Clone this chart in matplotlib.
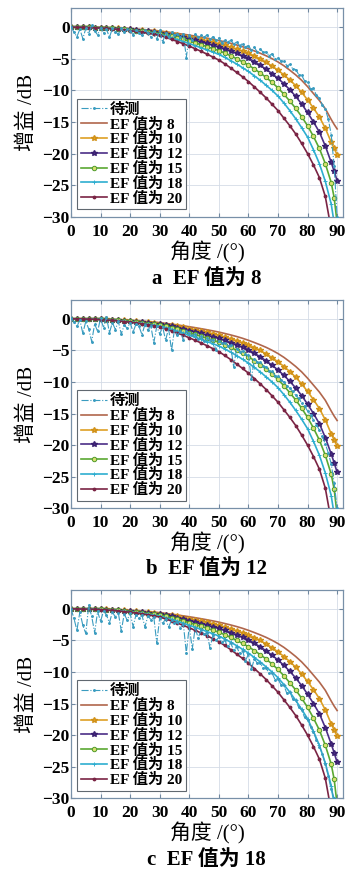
import matplotlib
matplotlib.use("Agg")
import matplotlib.pyplot as plt

plt.rcParams['font.family'] = ['Liberation Serif', 'Noto Sans CJK SC']
plt.rcParams['font.weight'] = 'bold'
plt.rcParams['axes.unicode_minus'] = True

# model curves, angle in degrees
ang = list(range(0, 89, 2)) + [89, 90]
ef8 = [0, 0, -0.01, -0.02, -0.03, -0.05, -0.07, -0.1, -0.14, -0.19, -0.25, -0.31, -0.38, -0.45, -0.52,
       -0.6, -0.72, -0.85, -0.98, -1.11, -1.25, -1.4, -1.56, -1.73, -1.91, -2.1, -2.32, -2.55, -2.8, -3.08,
       -3.4, -3.75, -4.12, -4.52, -4.98, -5.5, -6.1, -6.8, -7.55, -8.4, -9.4, -10.5, -11.6, -12.9, -14.6,
       -15.4, -16.1]
ef10 = [0, 0, -0.01, -0.03, -0.05, -0.07, -0.1, -0.13, -0.18, -0.24, -0.3, -0.38, -0.46, -0.55, -0.65,
        -0.75, -0.9, -1.05, -1.2, -1.37, -1.55, -1.75, -1.95, -2.15, -2.37, -2.6, -2.87, -3.15, -3.45, -3.77,
        -4.1, -4.55, -5.0, -5.55, -6.15, -6.8, -7.55, -8.35, -9.25, -10.3, -11.5, -12.8, -14.2, -16.0, -18.2,
        -19.2, -20.2]
ef12 = [0, 0, -0.01, -0.03, -0.05, -0.08, -0.12, -0.16, -0.21, -0.28, -0.35, -0.44, -0.53, -0.63, -0.74,
        -0.85, -1.02, -1.2, -1.4, -1.62, -1.85, -2.08, -2.32, -2.57, -2.83, -3.1, -3.42, -3.76, -4.12, -4.5,
        -4.9, -5.45, -6.02, -6.65, -7.35, -8.1, -8.95, -9.9, -10.95, -12.15, -13.5, -15.0, -16.6, -18.8, -21.4,
        -22.8, -24.3]
ef15 = [0, 0, -0.02, -0.04, -0.07, -0.1, -0.14, -0.19, -0.26, -0.34, -0.42, -0.52, -0.63, -0.74, -0.87,
        -1.0, -1.2, -1.42, -1.66, -1.92, -2.2, -2.48, -2.77, -3.07, -3.38, -3.7, -4.1, -4.52, -4.98, -5.47,
        -6.0, -6.6, -7.25, -7.95, -8.75, -9.6, -10.6, -11.7, -12.85, -14.15, -15.6, -17.3, -19.2, -21.6, -24.6,
        -27.0, -31.0]
ef18 = [0, -0.01, -0.02, -0.05, -0.08, -0.12, -0.17, -0.23, -0.31, -0.4, -0.5, -0.61, -0.73, -0.86, -1.0,
        -1.15, -1.4, -1.67, -1.96, -2.27, -2.6, -2.92, -3.26, -3.6, -3.95, -4.3, -4.78, -5.28, -5.82, -6.4,
        -7.0, -7.7, -8.4, -9.2, -10.0, -10.9, -12.0, -13.2, -14.5, -15.9, -17.4, -19.4, -21.6, -24.4, -28.0,
        -31.0, -36.0]
ef20 = [0, -0.01, -0.03, -0.05, -0.09, -0.13, -0.19, -0.26, -0.34, -0.44, -0.55, -0.67, -0.8, -0.95, -1.12,
        -1.3, -1.6, -1.92, -2.26, -2.62, -3.0, -3.4, -3.82, -4.26, -4.72, -5.2, -5.8, -6.45, -7.15, -7.85,
        -8.6, -9.45, -10.3, -11.2, -12.2, -13.2, -14.4, -15.6, -16.9, -18.4, -20.0, -21.8, -23.8, -26.8, -32.0,
        -36.0, -42.0]

# measured data, 1 degree steps
ang_m = list(range(0, 91))
meas_a = [0.1, -0.8, -1.5, -0.3, -1.8, -0.2, -1.0, 0.3, -0.6, -1.2,
          -0.1, -0.9, -0.3, -1.6, -0.2, -0.7, -1.1, -0.2, -0.8, -0.3,
          -0.6, -1.2, -0.4, -0.9, -1.3, -0.5, -0.9, -1.5, -0.6, -1.9,
          -0.5, -2.4, -0.9, -1.6, -0.8, -1.2, -1.1, -1.5, -1.0, -4.8,
          -1.2, -2.0, -1.1, -1.6, -1.3, -1.6, -1.2, -1.9, -1.5, -2.0,
          -1.7, -2.5, -2.0, -2.3, -2.1, -2.6, -2.3, -2.9, -2.6, -3.1,
          -2.9, -3.6, -3.2, -3.9, -3.4, -4.0, -3.9, -4.5, -4.2, -5.0,
          -4.8, -5.4, -5.3, -6.1, -5.9, -6.6, -6.7, -7.5, -7.6, -8.5,
          -8.6, -9.8, -9.7, -10.8, -11.2, -12.3, -13.0, -14.5, -17.0, -22.0,
          -30.0]
meas_b = [0.1, -0.5, -1.2, -0.2, -2.3, -0.4, -1.6, -3.6, -0.8, -2.0,
          0.1, -1.4, 0.3, -2.2, -0.6, -1.7, -0.4, -2.4, -1.0, -1.5,
          -0.6, -2.1, -0.8, -1.2, -2.5, -0.9, -1.8, -1.1, -3.8, -1.2,
          -2.4, -1.3, -3.4, -1.5, -5.0, -1.7, -2.6, -2.0, -3.4, -2.0,
          -2.3, -2.6, -2.4, -3.2, -2.7, -3.5, -3.0, -3.4, -3.3, -5.0,
          -3.5, -3.9, -3.8, -4.3, -4.2, -7.6, -4.7, -5.2, -5.1, -5.6,
          -5.7, -9.6, -6.3, -6.9, -6.9, -7.5, -7.6, -8.2, -8.3, -9.0,
          -9.1, -9.7, -10.0, -10.6, -11.0, -11.5, -12.1, -12.6, -13.3, -13.8,
          -14.6, -15.2, -16.0, -16.8, -17.6, -18.6, -19.8, -21.2, -23.0, -26.0,
          -30.0]
meas_c = [0.0, -1.5, -3.4, -0.5, -2.6, -3.9, 0.6, -1.2, -3.8, -0.4,
          -2.0, -0.3, -1.0, -2.2, -0.5, -1.3, -0.6, -3.5, -0.8, -1.8,
          -0.7, -2.8, -0.9, -1.5, -1.0, -2.9, -1.1, -1.7, -1.3, -5.4,
          -1.4, -2.3, -1.6, -2.9, -1.8, -2.3, -2.1, -3.0, -2.4, -7.0,
          -2.7, -6.4, -3.0, -4.6, -3.4, -4.0, -3.8, -6.2, -4.2, -5.0,
          -4.5, -5.3, -5.0, -5.9, -5.4, -6.5, -6.0, -7.0, -6.6, -8.2,
          -7.2, -9.6, -7.9, -8.6, -8.6, -9.4, -9.4, -10.2, -10.2, -11.2,
          -11.1, -12.0, -12.1, -13.4, -13.2, -14.3, -14.5, -15.6, -16.0, -17.2,
          -17.6, -18.7, -19.5, -20.8, -21.8, -23.0, -24.6, -26.5, -28.6, -30.0,
          -31.0]

captions = ['a  EF 值为 8', 'b  EF 值为 12', 'c  EF 值为 18']
measured = [meas_a, meas_b, meas_c]

models = [
    ('EF 值为 8', ef8, dict(color='#b0664c', lw=1.2)),
    ('EF 值为 10', ef10, dict(color='#dea024', lw=1.2, marker='*', ms=4, mfc='#e8a820', mec='#d09018')),
    ('EF 值为 12', ef12, dict(color='#4b2e86', lw=1.2, marker='*', ms=4, mfc='#4b2e86', mec='#3a2070')),
    ('EF 值为 15', ef15, dict(color='#5aa832', lw=1.2, marker='o', ms=3.2, mfc='#d8e070', mec='#4f9a2a', mew=0.7)),
    ('EF 值为 18', ef18, dict(color='#2eaed0', lw=1.2, marker='+', ms=3.5, mew=0.7)),
    ('EF 值为 20', ef20, dict(color='#7a2444', lw=1.2, marker='.', ms=3.5)),
]

fig = plt.figure(figsize=(3.47, 8.72), dpi=100)
bottoms = [0.7515, 0.4171, 0.0845]
cap_y = [1 - 279 / 872, 1 - 569 / 872, 1 - 860 / 872]

for i in range(3):
    ax = fig.add_axes([0.2046, bottoms[i], 0.784, 0.239])
    ax.plot(ang_m, measured[i], color='#3a9cc0', lw=0.8, ls='-.', marker='.', ms=2.2,
            label='待测', zorder=5)
    for name, vals, st in models:
        ax.plot(ang, vals, label=name, **st)
    ax.set_xlim(0, 92)
    ax.set_ylim(-30, 3)
    ax.set_xticks(range(0, 91, 10))
    ax.set_yticks(range(-30, 1, 5))
    ax.grid(True, color='#d4dce6', lw=0.6)
    ax.tick_params(direction='in', length=3, labelsize=12.5, top=True, right=True,
                   color='#7088a0')
    ax.tick_params(axis='x', pad=5)
    ax.tick_params(axis='y', pad=1)
    for s in ax.spines.values():
        s.set_color('#7890a8')
        s.set_linewidth(0.9)
    ax.set_xlabel('角度 /(°)', fontsize=15, labelpad=1)
    ax.set_ylabel('增益 /dB', fontsize=15, labelpad=4)
    leg = ax.legend(loc='lower left', bbox_to_anchor=(0.01, 0.02), fontsize=11,
                    handlelength=1.7, handletextpad=0.2, labelspacing=0.05,
                    borderpad=0.25, borderaxespad=0.2, fancybox=False, framealpha=1)
    leg.get_frame().set_edgecolor('#606870')
    leg.get_frame().set_linewidth(0.8)
    fig.text(0.596, cap_y[i], captions[i], ha='center', va='center', fontsize=15)

fig.savefig('out.png', dpi=100)
